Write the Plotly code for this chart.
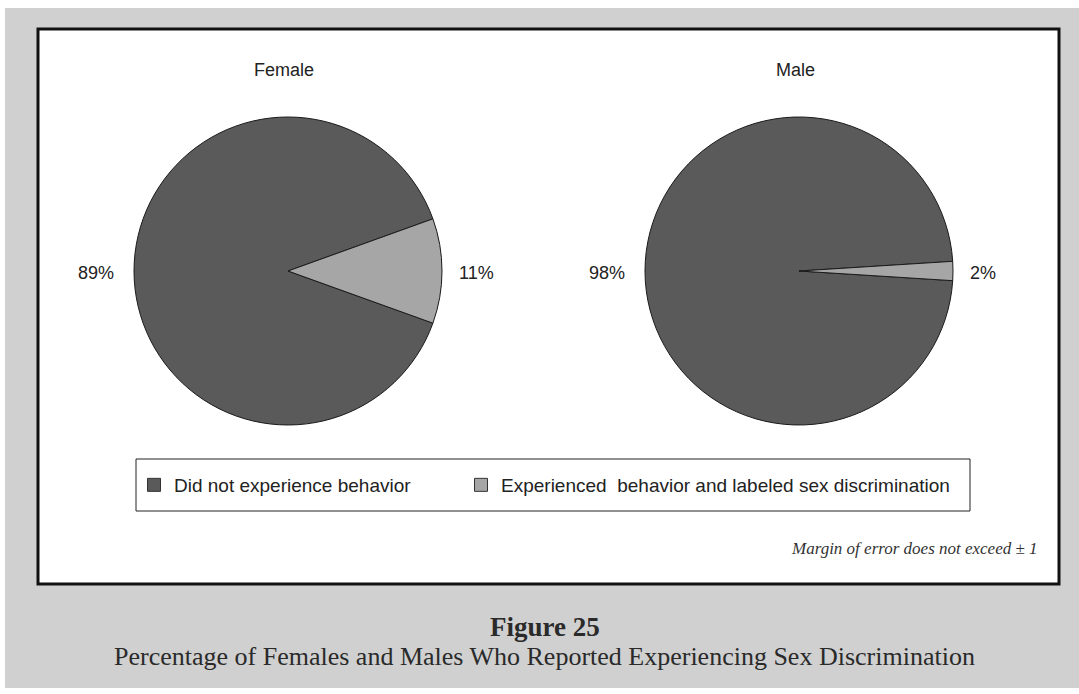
import plotly.graph_objects as go

W, H = 1079, 694

# Survey shares (percent)
categories = ["Did not experience behavior", "Experienced  behavior and labeled sex discrimination"]
female_values = [89, 11]
male_values = [98, 2]
groups = ["Female", "Male"]

slice_colors = ["#5a5a5a", "#a6a6a6"]
text_color = "#222222"
sans = "Liberation Sans"
serif = "Liberation Serif"


def px_x(v):
    return v / W


def px_y(v):
    return 1 - v / H


def start_angle(values):
    # centre the small slice on 3 o'clock
    small = values[1] / sum(values) * 360
    return 90 + small / 2


fig = go.Figure()

pie_boxes = [(134, 442), (645, 953)]
pie_top, pie_bottom = 117, 425
annotations = []
for i, (name, vals) in enumerate(zip(groups, [female_values, male_values])):
    x0, x1 = pie_boxes[i]
    fig.add_trace(go.Pie(
        labels=categories,
        values=vals,
        name=name,
        sort=False,
        direction="clockwise",
        rotation=start_angle(vals),
        marker=dict(colors=slice_colors, line=dict(color="#1a1a1a", width=1)),
        textinfo="none",
        hoverinfo="label+percent",
        showlegend=False,
        domain=dict(x=[px_x(x0), px_x(x1)], y=[px_y(pie_bottom), px_y(pie_top)]),
    ))
    mid_y = px_y((pie_top + pie_bottom) / 2 + 2)
    # percentage labels beside each pie
    annotations.append(dict(text=f"{vals[0]}%", x=px_x(x0 - 18), y=mid_y, xanchor="right"))
    annotations.append(dict(text=f"{vals[1]}%", x=px_x(x1 + 15), y=mid_y, xanchor="left"))
    # group title above each pie
    annotations.append(dict(text=name, x=px_x((x0 + x1) / 2 - 4), y=px_y(70), xanchor="center"))

annotations = [dict(a, xref="paper", yref="paper", showarrow=False, yanchor="middle",
                    font=dict(family=sans, size=18, color=text_color)) for a in annotations]

# legend keys: one entry per category, each in its own legend box
legend_names = ["legend", "legend2"]
for cat, col, lg in zip(categories, slice_colors, legend_names):
    fig.add_trace(go.Scatter(
        x=[None], y=[None], mode="markers", name=cat, legend=lg,
        marker=dict(symbol="square", size=13, color=col, line=dict(color="#333333", width=1)),
        hoverinfo="skip",
    ))

shapes = [
    # halftone-grey page band
    dict(type="rect", xref="paper", yref="paper", x0=px_x(5), x1=1, y0=px_y(688), y1=px_y(8),
         fillcolor="#d0d0d0", line=dict(width=0), layer="below"),
    # white chart panel with heavy frame
    dict(type="rect", xref="paper", yref="paper", x0=px_x(38), x1=px_x(1059), y0=px_y(584), y1=px_y(29),
         fillcolor="white", line=dict(color="#111111", width=3), layer="below"),
    # legend frame
    dict(type="rect", xref="paper", yref="paper", x0=px_x(136), x1=px_x(970), y0=px_y(511), y1=px_y(459),
         fillcolor="white", line=dict(color="#222222", width=1), layer="below"),
]

annotations += [
    dict(text="<i>Margin of error does not exceed ± 1</i>", x=px_x(1040), y=px_y(548),
         xref="paper", yref="paper", showarrow=False, xanchor="right", yanchor="middle",
         font=dict(family=serif, size=17, color="#333333")),
    dict(text="<b>Figure 25</b>", x=px_x(545), y=px_y(627),
         xref="paper", yref="paper", showarrow=False, xanchor="center", yanchor="middle",
         font=dict(family=serif, size=27, color="#2a2a2a")),
    dict(text="Percentage of Females and Males Who Reported Experiencing Sex Discrimination",
         x=px_x(544), y=px_y(656),
         xref="paper", yref="paper", showarrow=False, xanchor="center", yanchor="middle",
         font=dict(family=serif, size=26, color="#2a2a2a")),
]

legend_style = dict(
    orientation="h",
    yanchor="middle",
    y=px_y(485),
    xanchor="left",
    bgcolor="rgba(0,0,0,0)",
    borderwidth=0,
    font=dict(family=sans, size=19, color=text_color),
)

fig.update_layout(
    width=W, height=H,
    margin=dict(l=0, r=0, t=0, b=0),
    paper_bgcolor="white",
    plot_bgcolor="rgba(0,0,0,0)",
    shapes=shapes,
    annotations=annotations,
    xaxis=dict(visible=False),
    yaxis=dict(visible=False),
    legend=dict(legend_style, x=px_x(134)),
    legend2=dict(legend_style, x=px_x(461)),
)

fig.write_html("out.html")
